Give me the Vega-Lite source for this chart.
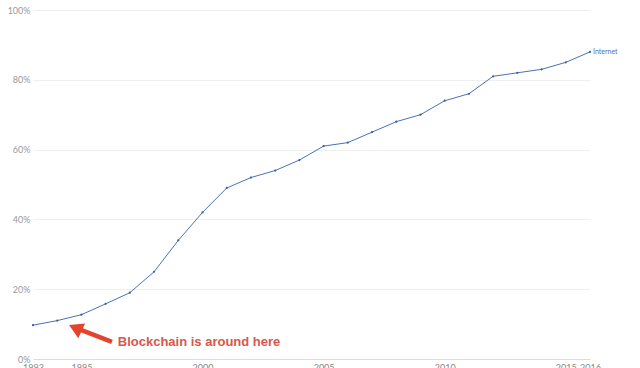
{
  "$schema": "https://vega.github.io/schema/vega-lite/v6.json",
  "width": 557,
  "height": 349,
  "autosize": {"type": "none"},
  "padding": {"left": 33, "top": 10, "right": 50, "bottom": 9},
  "background": "white",
  "config": {"view": {"stroke": null}, "font": "Lato"},
  "datasets": {
    "internet": [
      {"year": 1993, "share": 0.097, "series": "Internet"},
      {"year": 1994, "share": 0.11, "series": "Internet"},
      {"year": 1995, "share": 0.127, "series": "Internet"},
      {"year": 1996, "share": 0.158, "series": "Internet"},
      {"year": 1997, "share": 0.19, "series": "Internet"},
      {"year": 1998, "share": 0.25, "series": "Internet"},
      {"year": 1999, "share": 0.34, "series": "Internet"},
      {"year": 2000, "share": 0.42, "series": "Internet"},
      {"year": 2001, "share": 0.49, "series": "Internet"},
      {"year": 2002, "share": 0.52, "series": "Internet"},
      {"year": 2003, "share": 0.54, "series": "Internet"},
      {"year": 2004, "share": 0.57, "series": "Internet"},
      {"year": 2005, "share": 0.61, "series": "Internet"},
      {"year": 2006, "share": 0.62, "series": "Internet"},
      {"year": 2007, "share": 0.65, "series": "Internet"},
      {"year": 2008, "share": 0.68, "series": "Internet"},
      {"year": 2009, "share": 0.70, "series": "Internet"},
      {"year": 2010, "share": 0.74, "series": "Internet"},
      {"year": 2011, "share": 0.76, "series": "Internet"},
      {"year": 2012, "share": 0.81, "series": "Internet"},
      {"year": 2013, "share": 0.82, "series": "Internet"},
      {"year": 2014, "share": 0.83, "series": "Internet"},
      {"year": 2015, "share": 0.85, "series": "Internet"},
      {"year": 2016, "share": 0.88, "series": "Internet"}
    ],
    "arrow": [
      {"year": 1996.26, "share": 0.049, "year2": 1994.95, "share2": 0.084}
    ],
    "head": [
      {"year": 1994.75, "share": 0.089}
    ],
    "note": [
      {"year": 1996.5, "share": 0.049, "text": "Blockchain is around here"}
    ]
  },
  "layer": [
    {
      "data": {"name": "internet"},
      "mark": {"type": "line", "color": "#4a72b8", "strokeWidth": 1, "point": {"size": 5, "color": "#3f5f9a", "filled": true}},
      "encoding": {
        "x": {
          "field": "year", "type": "quantitative",
          "scale": {"domain": [1993, 2016], "nice": false, "zero": false},
          "axis": {
            "title": null, "values": [1993, 1995, 2000, 2005, 2010, 2015, 2016], "format": "d",
            "grid": false, "ticks": false, "domainColor": "#dddddd", "labelColor": "#888888",
            "labelFontSize": 9, "labelPadding": 4, "labelFlush": false, "labelOverlap": false
          }
        },
        "y": {
          "field": "share", "type": "quantitative",
          "scale": {"domain": [0, 1], "nice": false},
          "axis": {
            "title": null, "values": [0, 0.2, 0.4, 0.6, 0.8, 1], "format": ".0%",
            "domain": false, "ticks": false, "gridColor": "#efefef", "labelColor": "#999999",
            "labelFontSize": 9, "labelPadding": 3
          }
        }
      }
    },
    {
      "data": {"name": "internet"},
      "transform": [{"filter": "datum.year == 2016"}],
      "mark": {"type": "text", "align": "left", "dx": 3, "dy": 0, "fontSize": 7, "color": "#4a72b8"},
      "encoding": {
        "x": {"field": "year", "type": "quantitative"},
        "y": {"field": "share", "type": "quantitative"},
        "text": {"field": "series"}
      }
    },
    {
      "data": {"name": "arrow"},
      "mark": {"type": "rule", "color": "#e4432d", "strokeWidth": 4.5},
      "encoding": {
        "x": {"field": "year", "type": "quantitative"},
        "y": {"field": "share", "type": "quantitative"},
        "x2": {"field": "year2"},
        "y2": {"field": "share2"}
      }
    },
    {
      "data": {"name": "head"},
      "mark": {"type": "point", "shape": "triangle-left", "filled": true, "color": "#e4432d", "opacity": 1, "size": 260, "angle": 25},
      "encoding": {
        "x": {"field": "year", "type": "quantitative"},
        "y": {"field": "share", "type": "quantitative"}
      }
    },
    {
      "data": {"name": "note"},
      "mark": {"type": "text", "align": "left", "baseline": "middle", "font": "Liberation Sans", "fontWeight": "bold", "fontSize": 13, "color": "#d9574a"},
      "encoding": {
        "x": {"field": "year", "type": "quantitative"},
        "y": {"field": "share", "type": "quantitative"},
        "text": {"field": "text"}
      }
    }
  ]
}
